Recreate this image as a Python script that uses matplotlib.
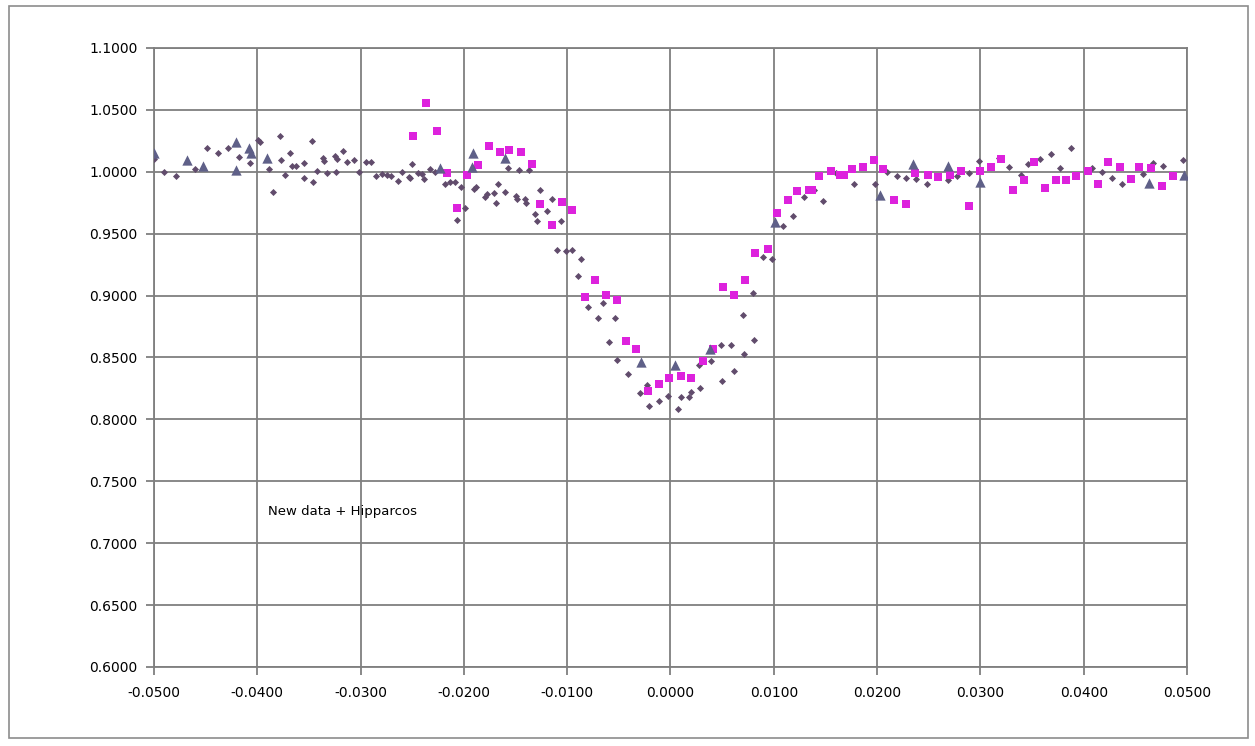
import matplotlib
matplotlib.use("Agg")
import matplotlib.pyplot as plt
from matplotlib.patches import Rectangle
from matplotlib.ticker import FuncFormatter, MultipleLocator

# new data (small diamonds)
new_x = [-0.0500, -0.0490, -0.0479, -0.0460, -0.0449, -0.0438, -0.0428, -0.0418, -0.0407, -0.0399,
         -0.0397, -0.0389, -0.0385, -0.0378, -0.0377, -0.0373, -0.0368, -0.0366, -0.0363, -0.0355,
         -0.0355, -0.0347, -0.0346, -0.0342, -0.0336, -0.0335, -0.0333, -0.0325, -0.0323, -0.0324,
         -0.0317, -0.0313, -0.0306, -0.0302, -0.0295, -0.0290, -0.0285, -0.0279, -0.0274, -0.0271,
         -0.0264, -0.0260, -0.0253, -0.0250, -0.0244, -0.0252, -0.0241, -0.0239, -0.0233, -0.0228,
         -0.0218, -0.0213, -0.0209, -0.0203, -0.0207, -0.0199, -0.0190, -0.0188, -0.0180, -0.0178,
         -0.0171, -0.0169, -0.0167, -0.0160, -0.0157, -0.0150, -0.0149, -0.0147, -0.0141, -0.0140,
         -0.0137, -0.0131, -0.0129, -0.0126, -0.0120, -0.0115, -0.0106, -0.0110, -0.0101, -0.0095,
         -0.0087, -0.0090, -0.0080, -0.0065, -0.0070, -0.0054, -0.0060, -0.0052, -0.0041, -0.0023,
         -0.0030, -0.0021, -0.0011, -0.0002, 0.0007, 0.0010, 0.0018, 0.0020, 0.0029, 0.0028,
         0.0039, 0.0050, 0.0049, 0.0059, 0.0061, 0.0071, 0.0081, 0.0070, 0.0080, 0.0090,
         0.0098, 0.0109, 0.0119, 0.0129, 0.0139, 0.0148, 0.0160, 0.0178, 0.0198, 0.0210,
         0.0219, 0.0228, 0.0238, 0.0248, 0.0269, 0.0277, 0.0289, 0.0299, 0.0318, 0.0328,
         0.0339, 0.0346, 0.0358, 0.0368, 0.0377, 0.0388, 0.0408, 0.0418, 0.0427, 0.0437,
         0.0457, 0.0467, 0.0477, 0.0496]
new_y = [1.0100, 1.0000, 0.9965, 1.0020, 1.0196, 1.0155, 1.0196, 1.0120, 1.0068, 1.0260,
         1.0237, 1.0024, 0.9834, 1.0290, 1.0095, 0.9978, 1.0150, 1.0050, 1.0050, 0.9950,
         1.0068, 1.0250, 0.9916, 1.0005, 1.0114, 1.0087, 0.9990, 1.0128, 1.0100, 1.0000,
         1.0170, 1.0080, 1.0095, 1.0000, 1.0080, 1.0080, 0.9965, 0.9986, 0.9978, 0.9965,
         0.9924, 1.0000, 0.9957, 1.0060, 0.9990, 0.9950, 0.9986, 0.9943, 1.0020, 1.0000,
         0.9905, 0.9916, 0.9916, 0.9880, 0.9610, 0.9706, 0.9860, 0.9880, 0.9800, 0.9820,
         0.9830, 0.9750, 0.9905, 0.9834, 1.0030, 0.9807, 0.9780, 1.0014, 0.9780, 0.9750,
         1.0014, 0.9660, 0.9600, 0.9850, 0.9687, 0.9780, 0.9600, 0.9366, 0.9360, 0.9366,
         0.9293, 0.9158, 0.8908, 0.8943, 0.8819, 0.8819, 0.8626, 0.8478, 0.8370, 0.8281,
         0.8217, 0.8109, 0.8147, 0.8190, 0.8082, 0.8182, 0.8182, 0.8222, 0.8255, 0.8437,
         0.8470, 0.8308, 0.8604, 0.8598, 0.8389, 0.8532, 0.8639, 0.8846, 0.9024, 0.9312,
         0.9293, 0.9560, 0.9640, 0.9800, 0.9850, 0.9766, 0.9990, 0.9905, 0.9905, 1.0000,
         0.9965, 0.9951, 0.9943, 0.9905, 0.9937, 0.9965, 0.9990, 1.0087, 1.0114, 1.0040,
         0.9978, 1.0060, 1.0106, 1.0141, 1.0033, 1.0196, 1.0033, 1.0000, 0.9950, 0.9905,
         0.9986, 1.0068, 1.0050, 1.0095]

# second data set (magenta squares)
sq_x = [-0.0249, -0.0237, -0.0226, -0.0216, -0.0207, -0.0197, -0.0186, -0.0176, -0.0165, -0.0156,
        -0.0145, -0.0134, -0.0126, -0.0115, -0.0105, -0.0095, -0.0073, -0.0083, -0.0062, -0.0052,
        -0.0043, -0.0033, -0.0022, -0.0011, -0.0001, 0.0010, 0.0020, 0.0031, 0.0041, 0.0051,
        0.0061, 0.0072, 0.0082, 0.0094, 0.0103, 0.0114, 0.0122, 0.0134, 0.0137, 0.0144,
        0.0155, 0.0164, 0.0168, 0.0176, 0.0186, 0.0197, 0.0206, 0.0216, 0.0228, 0.0237,
        0.0249, 0.0259, 0.0271, 0.0281, 0.0289, 0.0300, 0.0310, 0.0320, 0.0332, 0.0342,
        0.0352, 0.0363, 0.0373, 0.0383, 0.0393, 0.0404, 0.0414, 0.0424, 0.0435, 0.0446,
        0.0454, 0.0465, 0.0476, 0.0486]
sq_y = [1.0290, 1.0558, 1.0332, 0.9992, 0.9706, 0.9978, 1.0052, 1.0210, 1.0160, 1.0180,
        1.0160, 1.0060, 0.9740, 0.9570, 0.9760, 0.9690, 0.9129, 0.8989, 0.9008, 0.8967,
        0.8631, 0.8567, 0.8228, 0.8289, 0.8335, 0.8351, 0.8335, 0.8470, 0.8567, 0.9070,
        0.9008, 0.9129, 0.9347, 0.9374, 0.9665, 0.9774, 0.9842, 0.9850, 0.9850, 0.9970,
        1.0005, 0.9978, 0.9978, 1.0024, 1.0040, 1.0095, 1.0024, 0.9774, 0.9739, 0.9990,
        0.9978, 0.9960, 0.9978, 1.0005, 0.9725, 1.0005, 1.0040, 1.0100, 0.9850, 0.9937,
        1.0080, 0.9870, 0.9930, 0.9930, 0.9970, 1.0005, 0.9905, 1.0080, 1.0040, 0.9943,
        1.0040, 1.0030, 0.9883, 0.9965]

# Hipparcos (triangles)
hip_x = [-0.0500, -0.0468, -0.0453, -0.0421, -0.0421, -0.0408, -0.0406, -0.0391, -0.0223, -0.0191,
         -0.0192, -0.0160, -0.0029, 0.0004, 0.0038, 0.0101, 0.0203, 0.0235, 0.0269, 0.0300,
         0.0463, 0.0497]
hip_y = [1.0155, 1.0095, 1.0050, 1.0237, 1.0014, 1.0196, 1.0155, 1.0114, 1.0030, 1.0155,
         1.0040, 1.0114, 0.8464, 0.8437, 0.8567, 0.9597, 0.9815, 1.0060, 1.0046, 0.9916,
         0.9910, 0.9978]


def fmt4(v, pos):
    if abs(v) < 1e-9:
        v = 0.0
    return f"{v:.4f}"


W, H = 1255, 746
fig = plt.figure(figsize=(W / 100, H / 100), dpi=100)
fig.patches.append(Rectangle((9 / W, 1 - 738 / H), (1248 - 9) / W, (738 - 6) / H,
                             transform=fig.transFigure, fill=False,
                             edgecolor="#8c8c8c", linewidth=1.2))

ax = fig.add_axes([154 / W, 1 - 667 / H, (1187 - 154) / W, (667 - 48) / H])

ax.scatter(new_x, new_y, marker="D", s=13, color="#614c6c", linewidths=0, zorder=3)
ax.scatter(sq_x, sq_y, marker="s", s=28, color="#dd22dd", linewidths=0, zorder=3)
ax.scatter(hip_x, hip_y, marker="^", s=55, color="#5f6088", linewidths=0, zorder=4)

ax.set_xlim(-0.05, 0.05)
ax.set_ylim(0.6, 1.1)
ax.xaxis.set_major_locator(MultipleLocator(0.01))
ax.yaxis.set_major_locator(MultipleLocator(0.05))
ax.xaxis.set_major_formatter(FuncFormatter(fmt4))
ax.yaxis.set_major_formatter(FuncFormatter(fmt4))
ax.grid(True, color="#7f7f7f", linewidth=1.3)
ax.set_axisbelow(True)
for s in ax.spines.values():
    s.set_color("#7f7f7f")
    s.set_linewidth(1.3)
ax.tick_params(direction="out", length=6, width=1.3, color="#7f7f7f",
               labelsize=10, labelcolor="black")
ax.tick_params(axis="x", pad=8)
ax.tick_params(axis="y", pad=6)

ax.text(-0.0390, 0.726, "New data + Hipparcos", fontsize=9.5, va="center", ha="left")

fig.savefig("out.png", dpi=100)
